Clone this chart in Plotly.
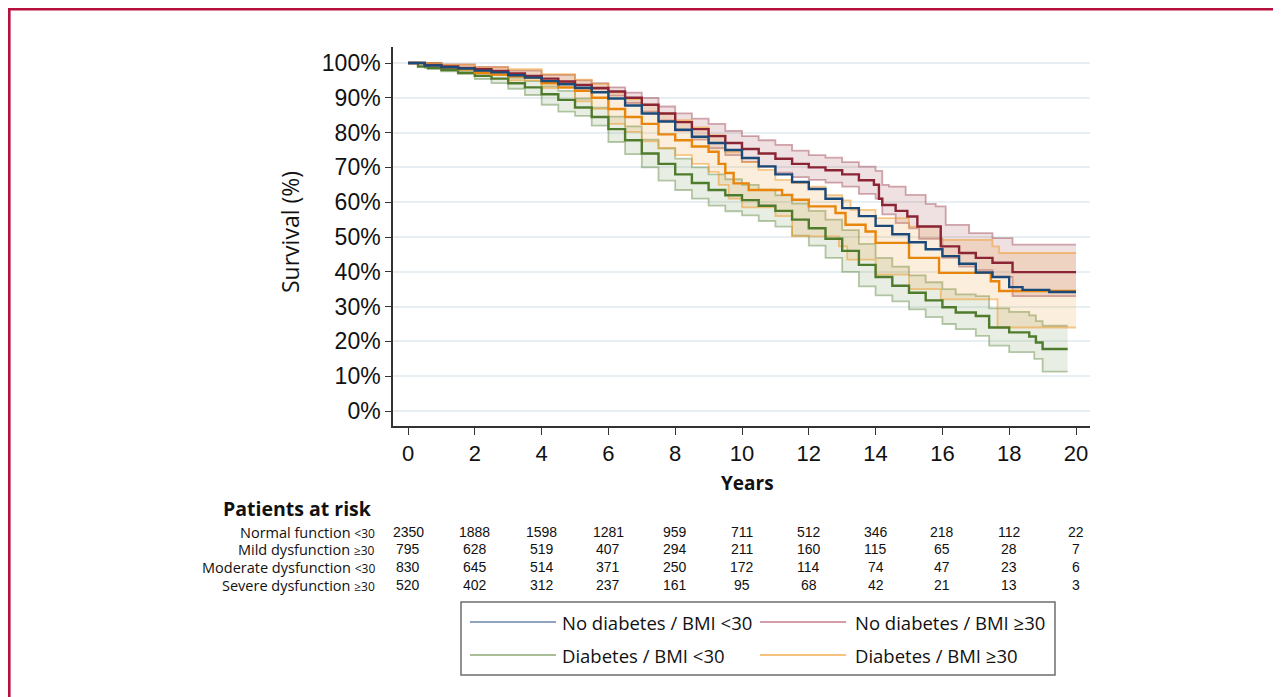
import plotly.graph_objects as go

# ---------------- data ----------------
years_ticks = [0, 2, 4, 6, 8, 10, 12, 14, 16, 18, 20]
pct_ticks = [0, 10, 20, 30, 40, 50, 60, 70, 80, 90, 100]

# No diabetes / BMI <30
blue_t = [0, 0.5, 1, 1.5, 2, 2.5, 3, 3.5, 4, 4.5, 5, 5.5, 6, 6.5, 7, 7.5, 8, 8.5, 9, 9.5, 10,
          10.5, 11, 11.5, 12, 12.5, 13, 13.5, 14, 14.5, 15, 15.5, 16, 16.5, 17, 17.5, 18, 18.4, 19.2, 20]
blue_s = [100, 99.3, 98.8, 98.4, 97.8, 97.3, 96.5, 95.8, 94.8, 93.9, 92.9, 91.6, 89.8, 87.8, 85.5, 83.2,
          80.8, 78.8, 77, 75, 72.7, 70.3, 68, 65.8, 63.8, 61, 58.3, 56, 53.2, 50.8, 48.5, 46.5, 44.5,
          42.3, 39.8, 38.5, 35.6, 34.8, 34.2, 34.2]

# No diabetes / BMI >=30
red_t = [0, 0.5, 1, 1.5, 2, 2.5, 3, 3.5, 4, 4.5, 5, 5.5, 6, 6.5, 7, 7.5, 8, 8.5, 9, 9.5, 10, 10.5,
         11, 11.5, 12, 12.5, 13, 13.5, 13.95, 14.1, 14.2, 14.6, 14.95, 15.25, 15.95, 16.5, 17, 17.5, 18.1, 20]
red_s = [100, 99.4, 99, 98.6, 98.2, 97.7, 97, 96.3, 95.5, 94.7, 93.7, 92.8, 91.8, 90, 88, 85.5, 83, 81,
         79, 77, 75.3, 74, 72.5, 71, 70, 69.2, 68, 66.3, 65, 61, 59.2, 57.5, 55.9, 53, 47.3, 45.4, 44,
         42.6, 39.9, 39.9]
red_up_t = [0, 1, 2, 3, 4, 5, 5.5, 6, 6.5, 7, 7.5, 8, 8.5, 9, 9.5, 10, 10.5, 11, 11.5, 12, 12.5, 13,
            13.5, 14, 14.2, 14.4, 14.9, 15.5, 15.8, 16.1, 16.8, 17.5, 18.1, 20]
red_up_s = [100, 99.6, 98.9, 97.8, 96.6, 95, 94.2, 93, 91.5, 90, 87.5, 85.5, 84, 82.5, 80.5, 79, 77.8,
            76.5, 74.8, 73.5, 72.8, 71.5, 70.2, 69, 65, 64.5, 62.1, 59.5, 58.8, 53.5, 51.1, 49.7, 47.8, 47.8]
red_lo_t = [0, 1, 2, 3, 4, 5, 6, 6.5, 7, 7.5, 8, 8.5, 9, 9.5, 10, 10.5, 11, 11.5, 12, 12.5, 13, 13.5,
            14, 14.2, 14.6, 15, 15.3, 16, 16.5, 17, 17.5, 18.1, 20]
red_lo_s = [100, 98.4, 97.5, 96.2, 94.4, 92.4, 90.6, 88.5, 86, 83.5, 80.5, 78, 75.5, 73.5, 71.6, 70.2,
            68.5, 67.2, 66.4, 65.6, 64.5, 62.4, 61, 56.5, 54, 52.5, 49.5, 44, 41.5, 40.5, 38.5, 33, 33]

# Diabetes / BMI <30
green_t = [0, 0.3, 0.6, 1, 1.5, 2, 2.5, 3, 3.5, 4, 4.5, 5, 5.5, 6, 6.5, 7, 7.5, 8, 8.5, 9, 9.5, 10,
           10.5, 11, 11.5, 12, 12.5, 13, 13.5, 14, 14.5, 15, 15.5, 16, 16.4, 17, 17.4, 18, 18.6, 18.8, 19, 19.75]
green_s = [100, 99, 98.5, 98, 97.2, 96.3, 95.5, 94.2, 93, 91, 89.4, 87.2, 84.5, 81, 77.8, 74, 71, 68,
           65.5, 63.5, 62, 60.6, 59, 57.5, 55, 52.5, 49.5, 46, 42, 38.5, 36, 34, 31.8, 29.8, 28.3, 27.3,
           24, 22.6, 21.4, 19.7, 17.8, 17.8]
green_up_t = [0, 0.5, 1, 1.5, 2, 2.5, 3, 3.5, 4, 4.5, 5, 5.5, 6, 6.5, 7, 7.5, 8, 8.5, 9, 9.5, 10, 10.5,
              11, 11.5, 12, 12.5, 13, 13.5, 14, 14.5, 15, 15.5, 16, 16.4, 17, 17.4, 18, 18.6, 18.8, 19, 19.75]
green_up_s = [100, 99.5, 98.7, 98.1, 97.3, 96.7, 95.8, 94.8, 93.3, 92, 89.8, 87.2, 84.6, 81.8, 78, 75.5,
              72.5, 70, 68, 66.6, 65, 63.6, 62, 59.6, 57.5, 55, 52, 48, 44, 41.5, 39, 37, 35, 33.5, 33,
              29.5, 28.5, 27.5, 25.8, 24.5, 24.5]
green_lo_t = [0, 0.5, 1, 1.5, 2, 2.5, 3, 3.5, 4, 4.5, 5, 5.5, 6, 6.5, 7, 7.5, 8, 8.5, 9, 9.5, 10, 10.5,
              11, 11.5, 12, 12.5, 13, 13.5, 14, 14.5, 15, 15.5, 16, 16.4, 17, 17.4, 18, 18.75, 19, 19.75]
green_lo_s = [100, 98.5, 97.6, 96.8, 95.4, 94.2, 92.6, 90.8, 88, 86, 84.8, 82, 77.3, 73.8, 70, 66.2,
              63.5, 61, 59, 57.4, 56.2, 54.6, 53, 50.4, 47.5, 44, 40, 35.8, 33.2, 31.5, 29.2, 27, 25, 23.5,
              21.6, 18.8, 16.9, 15, 11.3, 11.3]

# Diabetes / BMI >=30
orange_t = [0, 0.5, 1, 1.5, 2, 2.5, 3, 3.5, 4, 4.5, 5, 5.5, 6, 6.5, 7, 7.5, 8, 8.5, 9, 9.3, 9.5, 9.75,
            10.2, 11.2, 11.5, 12, 12.8, 13.1, 13.7, 14, 15, 15.9, 17.45, 17.7, 20]
orange_s = [100, 99.4, 98.8, 98.2, 97.2, 96.7, 96.2, 95.8, 94.2, 93, 92, 90, 86.8, 84.5, 82.5, 79.5,
            77.8, 76, 74.5, 71, 68.4, 65.4, 63.5, 62.1, 60.7, 58.8, 56.9, 53.5, 51.6, 48.3, 44, 39.7,
            37.3, 34.5, 34.5]
orange_up_t = [0, 1, 2, 3, 4, 5, 5.5, 6, 6.5, 7, 7.5, 8, 8.5, 9, 9.5, 10, 10.5, 11, 11.5, 12, 12.5, 13,
               13.25, 14, 15, 15.95, 17.5, 17.7, 20]
orange_up_s = [100, 99.5, 98.7, 98.2, 96.8, 95.2, 94, 91.5, 89.6, 88, 85.5, 83.6, 81.5, 79.3, 74.5,
               71.5, 69.3, 66.4, 65.5, 64.5, 62, 60.5, 57.8, 55.4, 53, 49.2, 47.3, 45.4, 45.4]
orange_lo_t = [0, 0.5, 1, 2, 3, 4, 5, 5.5, 6, 6.5, 7, 7.5, 8, 8.5, 9, 9.3, 9.6, 10, 11, 11.5, 12.9,
               13.15, 14, 15, 15.95, 17.65, 20]
orange_lo_s = [100, 99, 98, 96.5, 95, 92.8, 89, 86.8, 82.5, 80.2, 77.5, 75.5, 73.5, 71, 68.7, 65, 61,
               58.5, 56, 50.2, 47.3, 43.5, 39.2, 35, 32.1, 24, 24]

# Patients at risk
risk_labels = ["Normal function", "Mild dysfunction", "Moderate dysfunction", "Severe dysfunction"]
risk_suffix = ["<30", "≥30", "<30", "≥30"]
risk_normal = [2350, 1888, 1598, 1281, 959, 711, 512, 346, 218, 112, 22]
risk_mild = [795, 628, 519, 407, 294, 211, 160, 115, 65, 28, 7]
risk_moderate = [830, 645, 514, 371, 250, 172, 114, 74, 47, 23, 6]
risk_severe = [520, 402, 312, 237, 161, 95, 68, 42, 21, 13, 3]

legend_names = ["No diabetes / BMI <30", "No diabetes / BMI ≥30", "Diabetes / BMI <30", "Diabetes / BMI ≥30"]

# ---------------- layout geometry (page pixels) ----------------
OFF = 8                      # page body margin
W, H = 1273, 689             # figure size
PL, PR, PT, PB = 393, 1090, 47, 426  # plot area in page pixels
X0PX, XPERYR = 408, 33.4
Y0PX, YPERPCT = 411, 3.48
xr = [(PL - X0PX) / XPERYR, (PR - X0PX) / XPERYR]
yr = [(Y0PX - PB) / YPERPCT, (Y0PX - PT) / YPERPCT]


def pxx(x):
    return (x - PL) / (PR - PL)


def pyy(y):
    return (PB - y) / (PB - PT)


SANS = "Open Sans, Noto Sans, DejaVu Sans, sans-serif"
ARIAL = "Liberation Sans, Arial, sans-serif"
NARROW = "Liberation Sans Narrow, Arial Narrow, Liberation Sans, Arial, sans-serif"

fig = go.Figure()


def band(t_lo, s_lo, t_up, s_up, line_col, fill_col):
    fig.add_trace(go.Scatter(x=t_lo, y=s_lo, mode="lines", line=dict(color=line_col, width=1.8, shape="hv"),
                             showlegend=False, hoverinfo="skip"))
    fig.add_trace(go.Scatter(x=t_up, y=s_up, mode="lines", line=dict(color=line_col, width=1.8, shape="hv"),
                             fill="tonexty", fillcolor=fill_col, showlegend=False, hoverinfo="skip"))


band(red_lo_t, red_lo_s, red_up_t, red_up_s, "rgba(139,35,50,0.38)", "rgba(139,35,50,0.14)")
band(green_lo_t, green_lo_s, green_up_t, green_up_s, "rgba(78,122,44,0.40)", "rgba(78,122,44,0.13)")
band(orange_lo_t, orange_lo_s, orange_up_t, orange_up_s, "rgba(240,150,30,0.50)", "rgba(236,140,20,0.15)")

for t, s, c, n in [(green_t, green_s, "#4f7b2d", legend_names[2]),
                   (orange_t, orange_s, "#e8850c", legend_names[3]),
                   (red_t, red_s, "#8b2434", legend_names[1]),
                   (blue_t, blue_s, "#1c4a78", legend_names[0])]:
    fig.add_trace(go.Scatter(x=t, y=s, mode="lines", name=n, line=dict(color=c, width=2.4, shape="hv"),
                             showlegend=False))

annotations = []
shapes = []

# axis titles
annotations.append(dict(text="Survival (%)", xref="paper", yref="paper", x=pxx(290), y=pyy(232),
                        textangle=-90, showarrow=False, font=dict(family=SANS, size=23, color="#111"),
                        xanchor="center", yanchor="middle"))
annotations.append(dict(text="<b>Years</b>", xref="paper", yref="paper", x=pxx(747), y=pyy(483),
                        showarrow=False, font=dict(family=SANS, size=19, color="#111"),
                        xanchor="center", yanchor="middle"))
annotations.append(dict(text="<b>Patients at risk</b>", xref="paper", yref="paper", x=pxx(374), y=pyy(508),
                        showarrow=False, font=dict(family=SANS, size=19.5, color="#111"),
                        xanchor="right", yanchor="middle"))

# at-risk table
row_y = [532, 549, 567, 585]
for lab, suf, vals, ry in zip(risk_labels, risk_suffix, [risk_normal, risk_mild, risk_moderate, risk_severe], row_y):
    suf_html = suf.replace("<", "&lt;")
    annotations.append(dict(text=f"{lab} <span style='font-size:12px'>{suf_html}</span>", xref="paper",
                            yref="paper", x=pxx(377), y=pyy(ry), showarrow=False,
                            font=dict(family=SANS, size=14.5, color="#111"), xanchor="right", yanchor="middle"))
    for yrv, v in zip(years_ticks, vals):
        annotations.append(dict(text=str(v), xref="x", yref="paper", x=yrv, y=pyy(ry), showarrow=False,
                                font=dict(family=NARROW, size=14, color="#111"), xanchor="center",
                                yanchor="middle"))

# legend (drawn manually)
shapes.append(dict(type="rect", xref="paper", yref="paper", x0=pxx(461), x1=pxx(1055), y0=pyy(675), y1=pyy(602),
                   line=dict(color="#6e6e6e", width=1.5), fillcolor="rgba(0,0,0,0)"))
leg_cols = ["#8fa4c0", "#d39ea7", "#a9bd98", "#f6c17d"]
leg_pos = [(470, 556, 560, 622), (760, 846, 853, 622), (470, 556, 560, 655), (760, 846, 853, 655)]
for name, col, (lx0, lx1, tx, ly) in zip(legend_names, leg_cols, leg_pos):
    shapes.append(dict(type="line", xref="paper", yref="paper", x0=pxx(lx0), x1=pxx(lx1), y0=pyy(ly), y1=pyy(ly),
                       line=dict(color=col, width=2)))
    annotations.append(dict(text=name.replace("<", "&lt;"), xref="paper", yref="paper", x=pxx(tx), y=pyy(ly),
                            showarrow=False, font=dict(family=SANS, size=18.5, color="#111"),
                            xanchor="left", yanchor="middle"))

# outer crimson frame
shapes.append(dict(type="rect", xref="paper", yref="paper", x0=pxx(9.3), x1=pxx(1274.5), y0=pyy(720), y1=pyy(9.3),
                   line=dict(color="#b8103e", width=2.6), fillcolor="rgba(0,0,0,0)", layer="below"))

fig.update_layout(
    width=W, height=H,
    margin=dict(l=PL - OFF, r=W - (PR - OFF), t=PT - OFF, b=H - (PB - OFF), pad=0),
    paper_bgcolor="white", plot_bgcolor="white",
    showlegend=False,
    annotations=annotations, shapes=shapes,
    xaxis=dict(range=xr, tickvals=years_ticks, ticktext=[str(v) for v in years_ticks],
               showgrid=False, zeroline=False, showline=True, linecolor="#333", linewidth=1.5,
               ticks="outside", ticklen=7, tickcolor="#333", tickwidth=1.2,
               tickfont=dict(family=NARROW, size=22, color="#111")),
    yaxis=dict(range=yr, tickvals=pct_ticks, ticktext=[f"{v}%" for v in pct_ticks],
               showgrid=True, gridcolor="#e8eff2", gridwidth=2, zeroline=False,
               showline=True, linecolor="#333", linewidth=1.5,
               ticks="outside", ticklen=6, tickcolor="#333", tickwidth=1.2,
               tickfont=dict(family=ARIAL, size=23, color="#111")),
)

fig.write_html("out.html")
